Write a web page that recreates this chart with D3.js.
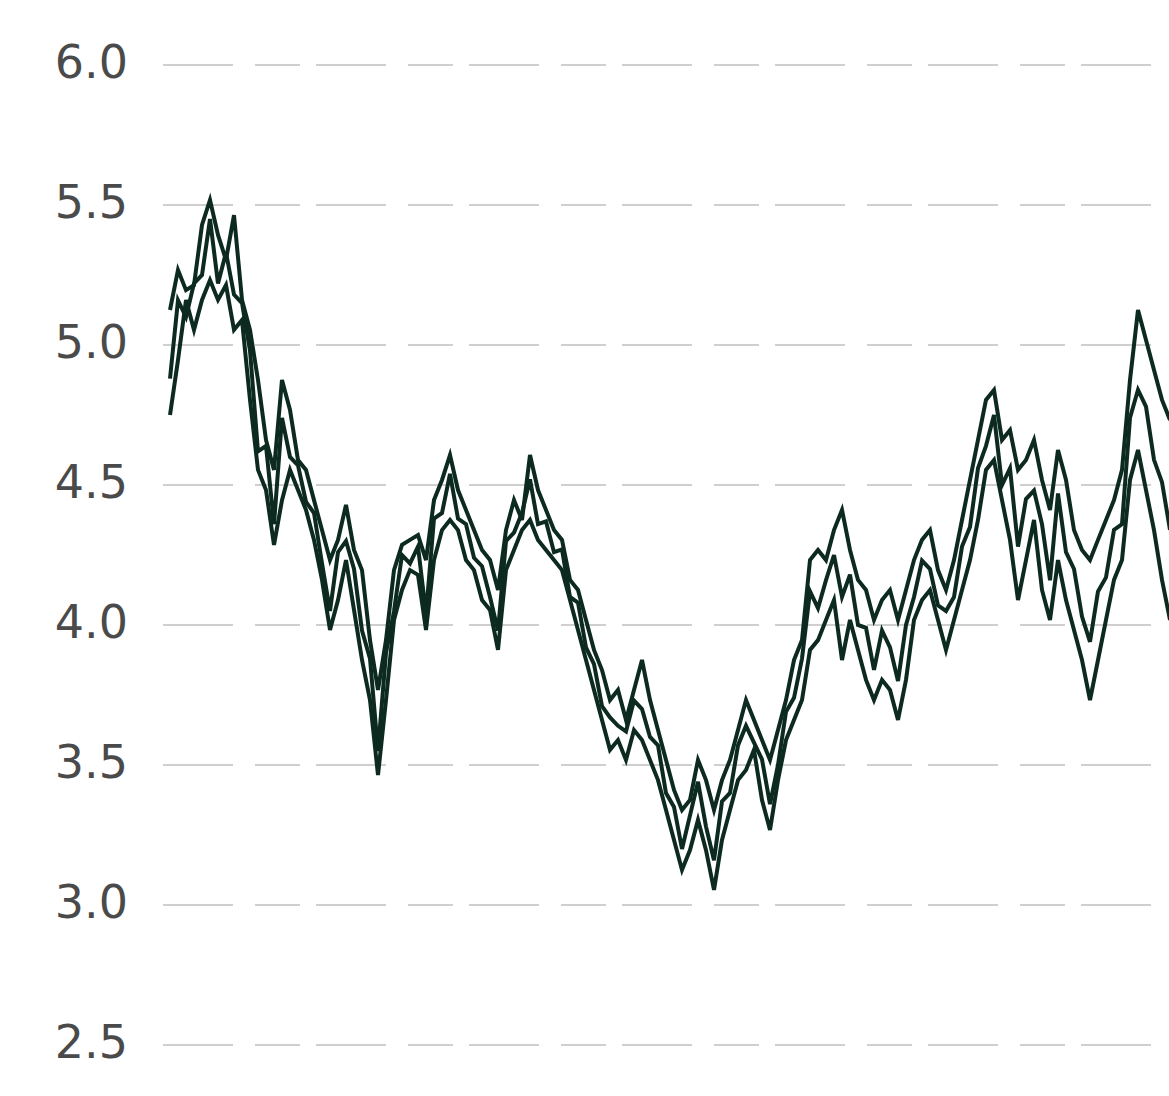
<!DOCTYPE html>
<html>
<head>
<meta charset="utf-8">
<script src="https://cdn.jsdelivr.net/npm/d3@7"></script>
<style>
  html, body { margin: 0; padding: 0; background: #fff; }
  svg { display: block; }
</style>
</head>
<body>
<svg id="chart" width="1169" height="1096"></svg>
<script>
// Tick values on the value axis
const yTicks = [2.5, 3.0, 3.5, 4.0, 4.5, 5.0, 5.5, 6.0];

// Upper series, one value per step
const seriesA = [
  5.125, 5.268, 5.196, 5.214, 5.429, 5.518, 5.393, 5.304, 5.464, 5.161,
  5.054, 4.875, 4.661, 4.554, 4.875, 4.768, 4.589, 4.554, 4.446, 4.339,
  4.232, 4.304, 4.429, 4.268, 4.196, 3.946, 3.768, 3.946, 4.196, 4.286,
  4.304, 4.321, 4.232, 4.446, 4.518, 4.607, 4.482, 4.411, 4.339, 4.268,
  4.232, 4.125, 4.339, 4.446, 4.375, 4.607, 4.482, 4.411, 4.339, 4.304,
  4.161, 4.125, 4.018, 3.911, 3.839, 3.732, 3.768, 3.661, 3.768, 3.875,
  3.732, 3.625, 3.518, 3.411, 3.339, 3.375, 3.518, 3.446, 3.339, 3.446,
  3.518, 3.625, 3.732, 3.661, 3.589, 3.518, 3.625, 3.732, 3.875, 3.946,
  4.232, 4.268, 4.232, 4.339, 4.411, 4.268, 4.161, 4.125, 4.018, 4.089,
  4.125, 4.018, 4.125, 4.232, 4.304, 4.339, 4.196, 4.125, 4.232, 4.375,
  4.518, 4.661, 4.804, 4.839, 4.661, 4.696, 4.554, 4.589, 4.661, 4.518,
  4.411, 4.625, 4.518, 4.339, 4.268, 4.232, 4.304, 4.375, 4.446, 4.554,
  4.875, 5.125, 5.018, 4.911, 4.804, 4.732
];

// Middle series, same steps
const seriesC = [
  4.88, 5.16, 5.10, 5.22, 5.25, 5.45, 5.22, 5.33, 5.18, 5.15,
  4.98, 4.62, 4.64, 4.36, 4.74, 4.60, 4.57, 4.44, 4.40, 4.22,
  4.05, 4.26, 4.30, 4.20, 3.98, 3.88, 3.55, 3.90, 4.05, 4.25,
  4.22, 4.28, 4.04, 4.38, 4.40, 4.54, 4.38, 4.36, 4.24, 4.21,
  4.10, 3.98, 4.30, 4.33, 4.40, 4.52, 4.36, 4.37, 4.26, 4.27,
  4.10, 4.08, 3.92, 3.86, 3.71, 3.67, 3.64, 3.62, 3.73, 3.70,
  3.60, 3.57, 3.40, 3.35, 3.20, 3.32, 3.44, 3.28, 3.16, 3.37,
  3.40, 3.57, 3.64, 3.58, 3.52, 3.36, 3.50, 3.69, 3.74, 3.88,
  4.12, 4.06, 4.16, 4.25, 4.10, 4.18, 4.00, 3.99, 3.84, 3.98,
  3.92, 3.80, 4.00, 4.10, 4.23, 4.20, 4.07, 4.05, 4.10, 4.28,
  4.35, 4.56, 4.64, 4.75, 4.50, 4.56, 4.28, 4.45, 4.48, 4.36,
  4.16, 4.47, 4.26, 4.20, 4.03, 3.94, 4.12, 4.17, 4.34, 4.36,
  4.74, 4.84, 4.78, 4.59, 4.51, 4.34
];

// Lower series, same steps
const seriesB = [
  4.750, 4.946, 5.161, 5.054, 5.161, 5.232, 5.161, 5.214, 5.054, 5.089,
  4.804, 4.554, 4.482, 4.286, 4.446, 4.554, 4.482, 4.411, 4.304, 4.161,
  3.982, 4.089, 4.232, 4.054, 3.875, 3.732, 3.464, 3.732, 4.018, 4.125,
  4.196, 4.179, 3.982, 4.232, 4.339, 4.375, 4.339, 4.232, 4.196, 4.089,
  4.054, 3.911, 4.196, 4.268, 4.339, 4.375, 4.304, 4.268, 4.232, 4.196,
  4.089, 3.982, 3.875, 3.768, 3.661, 3.554, 3.589, 3.518, 3.625, 3.589,
  3.518, 3.446, 3.339, 3.232, 3.125, 3.196, 3.304, 3.196, 3.054, 3.232,
  3.339, 3.446, 3.482, 3.554, 3.375, 3.268, 3.446, 3.589, 3.661, 3.732,
  3.911, 3.946, 4.018, 4.089, 3.875, 4.018, 3.911, 3.804, 3.732, 3.804,
  3.768, 3.661, 3.804, 4.018, 4.089, 4.125, 4.018, 3.911, 4.018, 4.125,
  4.232, 4.375, 4.554, 4.589, 4.446, 4.304, 4.089, 4.232, 4.375, 4.125,
  4.018, 4.232, 4.089, 3.982, 3.875, 3.732, 3.875, 4.018, 4.161, 4.232,
  4.518, 4.625, 4.482, 4.339, 4.161, 4.018
];

const W = 1169, H = 1096;
const svg = d3.select("#chart");

const x = d3.scaleLinear().domain([0, seriesA.length - 1]).range([170, 1170]);
const y = d3.scaleLinear().domain([2.5, 6.0]).range([1045, 65]);

// Horizontal grid
svg.append("g")
  .selectAll("line")
  .data(yTicks)
  .join("line")
  .attr("x1", 163)
  .attr("x2", W)
  .attr("y1", d => y(d))
  .attr("y2", d => y(d))
  .attr("stroke", "#cfcfcf")
  .attr("stroke-width", 2)
  .attr("stroke-dasharray", "70,22,45,16");

// Value labels on the left
svg.append("g")
  .selectAll("text")
  .data(yTicks)
  .join("text")
  .attr("x", 128)
  .attr("y", d => y(d) - 3)
  .attr("text-anchor", "end")
  .attr("dominant-baseline", "central")
  .attr("font-family", "DejaVu Sans, sans-serif")
  .attr("font-size", 46)
  .attr("fill", "#4a4a4a")
  .text(d => d.toFixed(1));

svg.append("clipPath").attr("id", "plot-clip")
  .append("rect").attr("x", 160).attr("y", 0).attr("width", W - 160).attr("height", H);

const line = d3.line()
  .x((d, i) => x(i))
  .y(d => y(d));

const plot = svg.append("g").attr("clip-path", "url(#plot-clip)");
[seriesA, seriesC, seriesB].forEach(s => {
  plot.append("path")
    .datum(s)
    .attr("fill", "none")
    .attr("stroke", "#0c2a20")
    .attr("stroke-width", 4)
    .attr("stroke-linejoin", "miter")
    .attr("d", line);
});
</script>
</body>
</html>
